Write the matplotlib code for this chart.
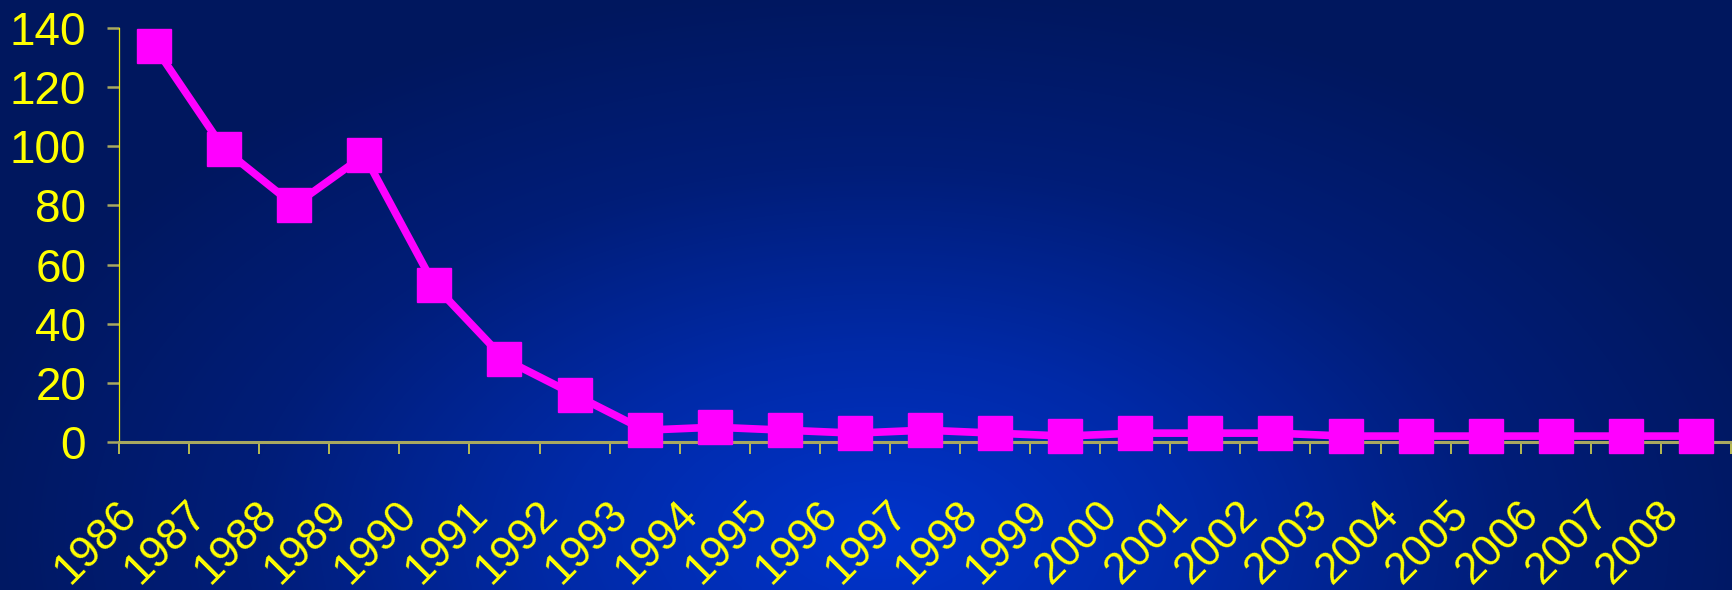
import numpy as np
import matplotlib
matplotlib.use("Agg")
import matplotlib.pyplot as plt
import matplotlib.transforms as mtransforms
from matplotlib.colors import LinearSegmentedColormap

years = [str(y) for y in range(1986, 2009)]
values = [134, 99, 80, 97, 53, 28, 16, 4, 5, 4, 3, 4, 3, 2, 3, 3, 3, 2, 2, 2, 2, 2, 2]
yticks = [0, 20, 40, 60, 80, 100, 120, 140]

plt.rcParams['font.family'] = ['Liberation Sans', 'DejaVu Sans']

W, H = 1733, 590
fig = plt.figure(figsize=(W / 100, H / 100), dpi=100)

# radial gradient background
bg = fig.add_axes([0, 0, 1, 1], zorder=0)
xx, yy = np.meshgrid(np.linspace(0, W, 400), np.linspace(0, H, 150))
cx, cy = 880, 540
r = np.sqrt(((xx - cx) / 950) ** 2 + ((yy - cy) / 560) ** 2)
r = np.clip(r, 0, 1)
cmap = LinearSegmentedColormap.from_list('bg', ['#0034cc', '#002aa8', '#001d78', '#00175e'])
bg.imshow(r, cmap=cmap, aspect='auto', extent=[0, W, H, 0], interpolation='bilinear')
bg.axis('off')

ax = fig.add_axes([119 / W, 1 - 442 / H, (1731 - 119) / W, (442 - 28) / H], zorder=1)
ax.patch.set_alpha(0)

x = np.arange(len(years))
ax.plot(x, values, color='#ff00ff', lw=5.5, marker='s', markersize=24,
        markerfacecolor='#ff00ff', markeredgecolor='#ff00ff', clip_on=False, zorder=3)

ax.set_xlim(-0.5, len(years) - 0.5)
ax.set_ylim(0, 140)
ax.set_yticks(yticks)
ax.set_yticklabels([str(v) for v in yticks])

ax.set_xticks(x)
ax.set_xticklabels(years, rotation=45, ha='right', va='top', rotation_mode='anchor')
ax.set_xticks(np.arange(-0.5, len(years)), minor=True)

for s in ['top', 'right']:
    ax.spines[s].set_visible(False)
ax.spines['left'].set_color('#e8e800')
ax.spines['left'].set_linewidth(0.9)
ax.spines['bottom'].set_color('#a8a860')
ax.spines['bottom'].set_linewidth(2.2)

ax.tick_params(axis='y', colors='#a8a860', labelcolor='#ffff00', labelsize=33,
               length=8.6, width=1.8, pad=15, direction='out')
ax.tick_params(axis='x', which='major', length=0, labelcolor='#ffff00', labelsize=31.5, pad=37)
ax.tick_params(axis='x', which='minor', length=8.6, width=1.3, color='#c8c850', direction='out')

offset = mtransforms.ScaledTranslation(-38 / 100, 0, fig.dpi_scale_trans)
for lab in ax.get_xticklabels():
    lab.set_transform(lab.get_transform() + offset)

fig.savefig('out.png', dpi=100)
